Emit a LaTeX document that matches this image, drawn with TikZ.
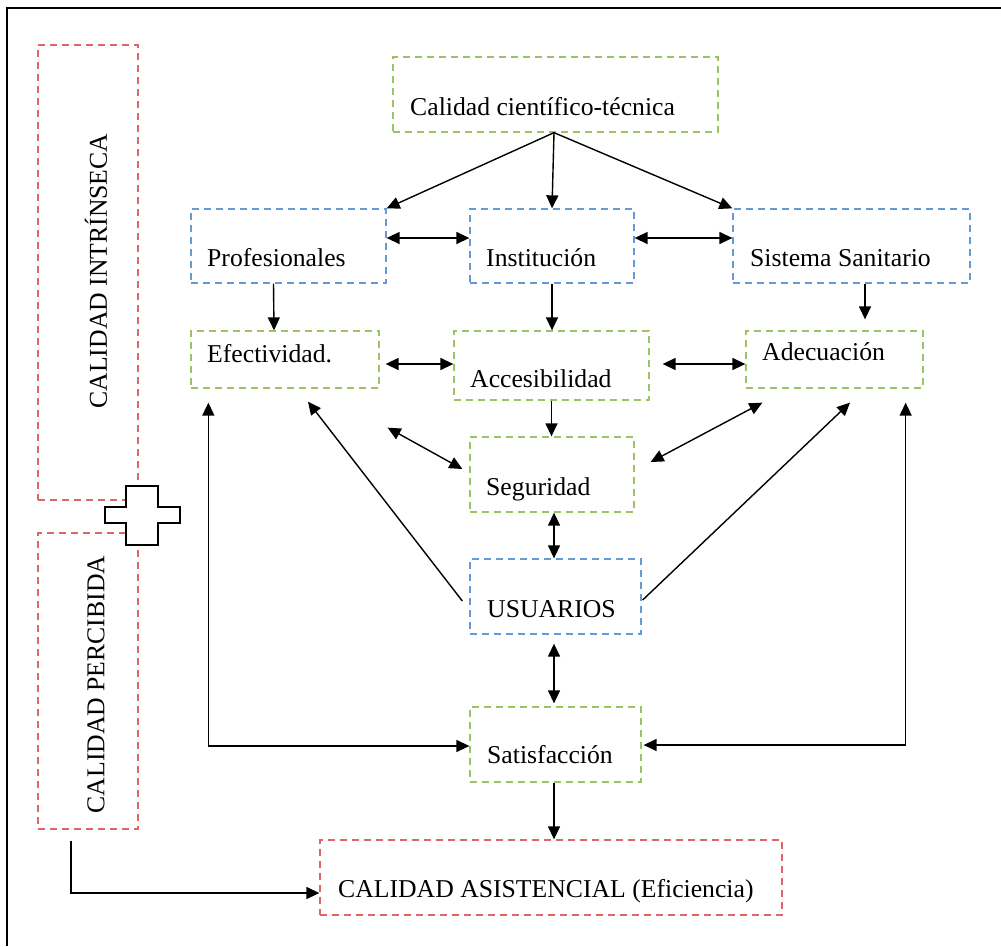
\documentclass[tikz,border=0pt]{standalone}
\usepackage{fontspec}
\setmainfont{Liberation Serif}
\usetikzlibrary{arrows.meta}
\definecolor{bred}{RGB}{222,102,102}
\definecolor{bgreen}{RGB}{155,195,100}
\definecolor{bblue}{RGB}{100,155,215}
\tikzset{
  box/.style={draw, rectangle, inner sep=0pt, line width=1.3pt, dash pattern=on 7pt off 5pt},
  rbox/.style={box, draw=bred},
  gbox/.style={box, draw=bgreen},
  bbox/.style={box, draw=bblue},
  txt/.style={inner sep=0pt, anchor=base west, font=\fontsize{25.7pt}{30pt}\selectfont},
  vtxt/.style={inner sep=0pt, anchor=center, rotate=90, font=\fontsize{25.7pt}{30pt}\selectfont},
  tip/.tip={Triangle[length=13pt,width=12pt]},
  conn/.style={line width=1.4pt, -tip},
  dconn/.style={line width=1.4pt, tip-tip}
}
\begin{document}
\begin{tikzpicture}[x=1pt,y=-1pt]
\useasboundingbox (0,0) rectangle (1001,946);
% frame
\draw[line width=1.6pt] (7,946) -- (7,8) -- (1001,8);

% side boxes
\node[rbox, minimum width=100pt, minimum height=455pt] (ci) at (88,272.5) {};
\node[rbox, minimum width=100pt, minimum height=296pt] (cp) at (88,681) {};
\node[vtxt] (tci) at (96,271) {CALIDAD INTRÍNSECA};
\node[vtxt] (tcp) at (96,684.5) {CALIDAD PERCIBIDA};

% cross
\draw[line width=1.3pt, fill=white] (126,486) -- (158,486) -- (158,507) -- (180,507) -- (180,523) -- (158,523) -- (158,545) -- (126,545) -- (126,523) -- (105,523) -- (105,507) -- (126,507) -- cycle;

% main boxes
\node[gbox, minimum width=325pt, minimum height=75pt] (cct) at (555.5,94.5) {};
\node[bbox, minimum width=195pt, minimum height=74pt] (prof) at (288.5,246) {};
\node[bbox, minimum width=164pt, minimum height=74pt] (inst) at (552,246) {};
\node[bbox, minimum width=237pt, minimum height=74pt] (sis) at (851.5,246) {};
\node[gbox, minimum width=188pt, minimum height=57pt] (efe) at (285,359.5) {};
\node[gbox, minimum width=195pt, minimum height=69pt] (acc) at (551.5,365.5) {};
\node[gbox, minimum width=177pt, minimum height=57pt] (ade) at (834.5,359.5) {};
\node[gbox, minimum width=164pt, minimum height=75pt] (seg) at (552,474.5) {};
\node[bbox, minimum width=171pt, minimum height=75pt] (usu) at (555.5,596.5) {};
\node[gbox, minimum width=171pt, minimum height=75pt] (sat) at (555.5,744.5) {};
\node[rbox, minimum width=462pt, minimum height=75pt] (cas) at (551,877.5) {};

% texts
\node[txt] (tcct) at (410,115) {Calidad científico-técnica};
\node[txt] (tprof) at (207,266) {Profesionales};
\node[txt] (tinst) at (486,266) {Institución};
\node[txt] (tsis) at (750,266) {Sistema Sanitario};
\node[txt] (tefe) at (207,362) {Efectividad.};
\node[txt] (tacc) at (470,387) {Accesibilidad};
\node[txt] (tade) at (762,360) {Adecuación};
\node[txt] (tseg) at (486,495) {Seguridad};
\node[txt] (tusu) at (487,617) {USUARIOS};
\node[txt] (tsat) at (487,763) {Satisfacción};
\node[txt] (tcas) at (338,897) {CALIDAD ASISTENCIAL (Eficiencia)};

% connectors
\draw[conn] ([xshift=-1.5pt]cct.south) -- (prof.north east);
\draw[conn] ([xshift=-1.5pt]cct.south) -- (inst.north);
\draw[conn] ([xshift=-1.5pt]cct.south) -- (sis.north west);
\draw[dconn] ([yshift=8pt]prof.east) -- ([yshift=8pt]inst.west);
\draw[dconn] ([yshift=8pt]inst.east) -- ([yshift=8pt]sis.west);
\draw[conn] ([xshift=-15pt]prof.south) -- ([xshift=-11pt]efe.north);
\draw[conn] (inst.south) -- (inst.south |- acc.north);
\draw[conn] ([xshift=13.5pt]sis.south) -- ([xshift=30.5pt,yshift=11pt]ade.north);
\draw[dconn] ([xshift=6pt,yshift=-4.5pt]efe.east) -- ([yshift=1.5pt]acc.west);
\draw[dconn] ([xshift=13pt,yshift=1.5pt]acc.east) -- ([yshift=-4.5pt]ade.west);
\draw[conn] (acc.south) -- (acc.south |- seg.north);
\draw[dconn] ([xshift=8pt,yshift=-39pt]efe.south east) -- ([xshift=-7pt,yshift=5.5pt]seg.west);
\draw[dconn] ([xshift=16pt,yshift=12.5pt]seg.east) -- ([xshift=17pt,yshift=-14pt]ade.south west);
\draw[dconn] ([xshift=2pt]seg.south) -- ([xshift=2pt]seg.south |- usu.north);
\draw[dconn] ([xshift=-1.5pt,yshift=-9pt]usu.south) -- ([xshift=-1.5pt,yshift=3pt]sat.north);
\draw[conn] ([xshift=-1.5pt]sat.south) -- ([xshift=-1.5pt]sat.south |- cas.north);
\draw[conn] ([xshift=-7pt,yshift=-4.5pt]usu.west) -- ([xshift=23pt,yshift=-13pt]efe.south);
\draw[conn] ([xshift=1pt,yshift=-3.5pt]usu.east) -- ([xshift=15.5pt,yshift=-14pt]ade.south);
\draw[dconn] ([xshift=18pt,yshift=-14pt]efe.south west) |- ([yshift=-1.5pt]sat.west);
\draw[dconn] ([xshift=-18pt,yshift=-14pt]ade.south east) |- ([xshift=2pt,yshift=-0.5pt]sat.east);
\draw[conn] ([xshift=-17pt,yshift=-11pt]cp.south) |- ([yshift=-15.5pt]cas.west);
\end{tikzpicture}
\end{document}
